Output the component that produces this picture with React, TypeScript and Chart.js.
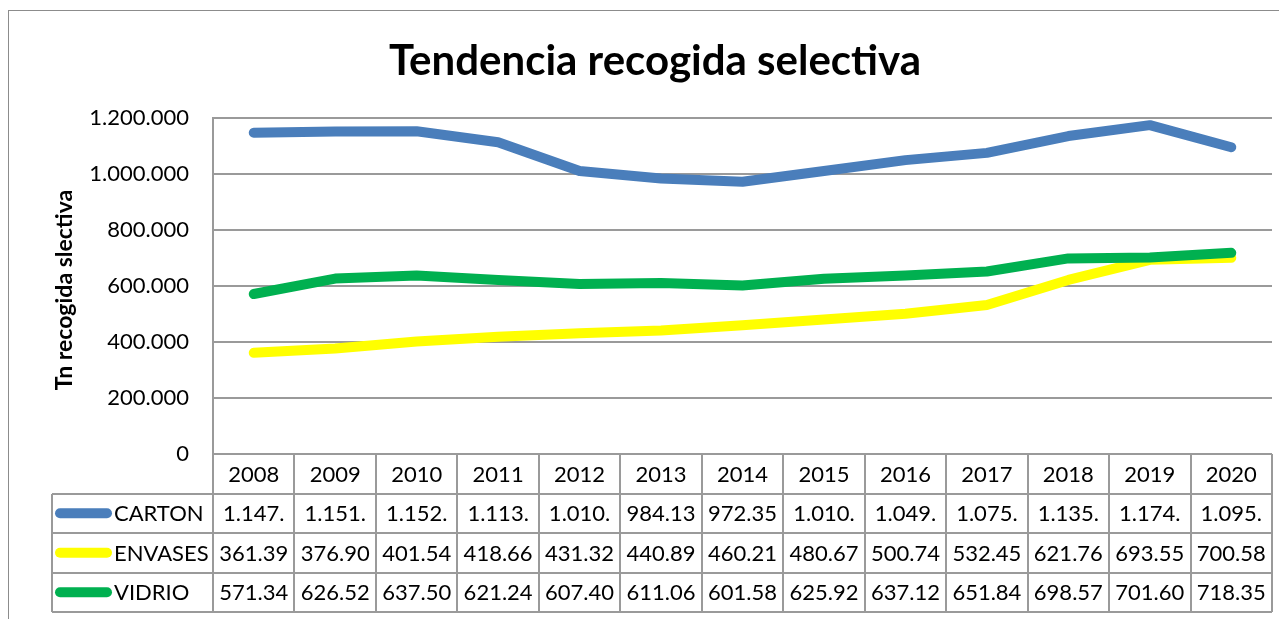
import React, { useEffect, useRef } from 'react';
import { Chart, registerables } from 'chart.js';

Chart.register(...registerables);

const years = ['2008', '2009', '2010', '2011', '2012', '2013', '2014', '2015', '2016', '2017', '2018', '2019', '2020'];
const carton = [1147500, 1151500, 1152500, 1113500, 1010500, 984135, 972355, 1010500, 1049500, 1075500, 1135500, 1174500, 1095500];
const envases = [361390, 376900, 401540, 418660, 431320, 440890, 460210, 480670, 500740, 532450, 621760, 693550, 700580];
const vidrio = [571340, 626520, 637500, 621240, 607400, 611060, 601580, 625920, 637120, 651840, 698570, 701600, 718350];
const seriesNames = ['CARTON', 'ENVASES', 'VIDRIO'];
const seriesColors = ['#4A7EBB', '#FFFF00', '#00B050'];
const chartTitle = 'Tendencia recogida selectiva';
const yTitle = 'Tn recogida slectiva';
const yMin = 0;
const yMax = 1200000;
const yStep = 200000;

const fmt = (n: number) => String(Math.round(n)).replace(/\B(?=(\d{3})+(?!\d))/g, '.');
const cellText = (n: number) => fmt(n).slice(0, 6);

const FONT = 'Lato, "Open Sans", sans-serif';
const GRID = '#9a9a9a';

const decorPlugin = {
  id: 'decor',
  afterDraw(chart: any) {
    const ctx = chart.ctx as CanvasRenderingContext2D;
    const { left, right, bottom } = chart.chartArea;
    const xs = chart.scales.x;
    const n = years.length;
    const w = (right - left) / n;
    const rowH = 39.5;
    const legendLeft = 52;
    const seriesData = [carton, envases, vidrio];
    ctx.save();

    // outer chart border
    ctx.strokeStyle = '#8c8c8c';
    ctx.lineWidth = 1;
    ctx.strokeRect(8.5, 10.5, 1400, 800);

    // title
    ctx.fillStyle = '#000';
    ctx.textAlign = 'center';
    ctx.textBaseline = 'middle';
    ctx.font = `bold 42px ${FONT}`;
    ctx.fillText(chartTitle, 655, 61);

    // y axis title
    ctx.save();
    ctx.translate(65, 290);
    ctx.rotate(-Math.PI / 2);
    ctx.font = `bold 23px ${FONT}`;
    ctx.fillText(yTitle, 0, 0);
    ctx.restore();

    // table grid
    ctx.strokeStyle = GRID;
    ctx.lineWidth = 2;
    const top0 = bottom;
    ctx.beginPath();
    ctx.moveTo(left, top0);
    ctx.lineTo(right, top0);
    for (let r = 1; r <= 4; r++) {
      const y = Math.round(top0 + r * rowH);
      ctx.moveTo(legendLeft, y);
      ctx.lineTo(right, y);
    }
    for (let i = 0; i <= n; i++) {
      const x = Math.round(left + i * w);
      ctx.moveTo(x, top0);
      ctx.lineTo(x, Math.round(top0 + 4 * rowH));
    }
    ctx.moveTo(legendLeft, Math.round(top0 + rowH));
    ctx.lineTo(legendLeft, Math.round(top0 + 4 * rowH));
    ctx.stroke();

    // header text
    ctx.font = `22px ${FONT}`;
    ctx.fillStyle = '#000';
    ctx.textAlign = 'center';
    ctx.textBaseline = 'middle';
    years.forEach((yr, i) => {
      ctx.fillText(yr, xs.getPixelForValue(i), top0 + rowH / 2 + 1);
    });

    // rows
    seriesData.forEach((vals, r) => {
      const cy = top0 + (r + 1) * rowH + rowH / 2 + 1;
      // legend key
      ctx.strokeStyle = seriesColors[r];
      ctx.lineWidth = 10;
      ctx.lineCap = 'round';
      ctx.beginPath();
      ctx.moveTo(60, cy - 1);
      ctx.lineTo(107, cy - 1);
      ctx.stroke();
      ctx.textAlign = 'left';
      ctx.fillStyle = '#000';
      ctx.fillText(seriesNames[r], 114, cy);
      ctx.textAlign = 'center';
      vals.forEach((v, i) => {
        ctx.fillText(cellText(v), xs.getPixelForValue(i), cy);
      });
    });
    ctx.restore();
  },
};

export default function App() {
  const ref = useRef<HTMLCanvasElement>(null);
  useEffect(() => {
    if (!ref.current) return;
    const mk = (label: string, data: number[], color: string, order: number) => ({
      label,
      data,
      borderColor: color,
      backgroundColor: color,
      borderWidth: 10,
      borderCapStyle: 'round' as const,
      borderJoinStyle: 'round' as const,
      pointRadius: 0,
      tension: 0,
      fill: false,
      order,
    });
    const chart = new Chart(ref.current, {
      type: 'line',
      data: {
        labels: years,
        datasets: [
          mk(seriesNames[0], carton, seriesColors[0], 2),
          mk(seriesNames[1], envases, seriesColors[1], 1),
          mk(seriesNames[2], vidrio, seriesColors[2], 0),
        ],
      },
      options: {
        animation: false,
        responsive: false,
        maintainAspectRatio: false,
        layout: { padding: { top: 118, bottom: 165, left: 0, right: 7 } },
        plugins: { legend: { display: false }, tooltip: { enabled: false }, title: { display: false } },
        scales: {
          x: { display: false, offset: true },
          y: {
            min: yMin,
            max: yMax,
            afterFit: (s: any) => {
              s.width = 213;
            },
            ticks: {
              stepSize: yStep,
              padding: 24,
              color: '#000',
              font: { family: FONT, size: 22 },
              callback: (v: any) => fmt(Number(v)),
            },
            grid: { color: GRID, lineWidth: 2, drawTicks: false },
            border: { display: true, color: GRID, width: 2 },
          },
        },
      },
      plugins: [decorPlugin],
    });
    return () => chart.destroy();
  }, []);
  return (
    <div style={{ position: 'absolute', left: 0, top: 0, width: 1279, height: 619, background: '#fff' }}>
      <canvas ref={ref} width={1279} height={619} style={{ display: 'block' }} />
    </div>
  );
}
